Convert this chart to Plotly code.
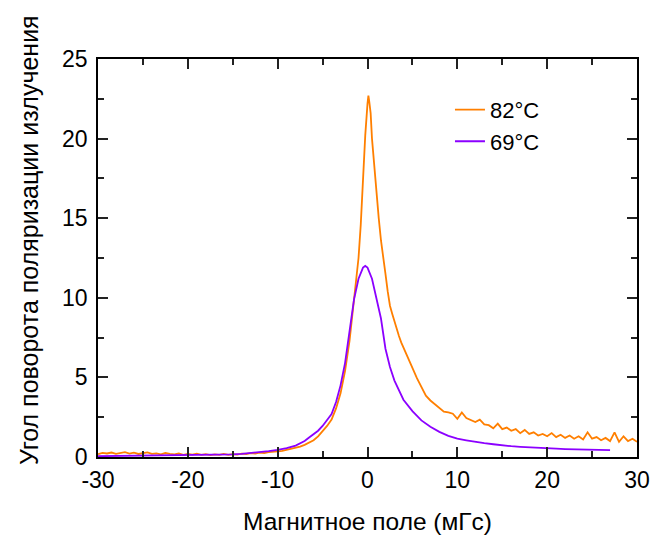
import plotly.graph_objects as go

# 82°C series (orange)
x82 = [-30, -29.5, -29, -28.5, -28, -27.5, -27, -26.5, -26, -25.5, -25, -24.5, -24, -23.5, -23,
       -22.5, -22, -21.5, -21, -20.5, -20, -19.5, -19, -18.5, -18, -17.5, -17, -16.5, -16, -15.5,
       -15, -14.5, -14, -13.5, -13, -12.5, -12, -11.5, -11, -10.5, -10, -9.5, -9, -8.5, -8, -7.5,
       -7, -6.5, -6, -5.5, -5, -4.5, -4, -3.5, -3, -2.5, -2, -1.5, -1.0, -0.75, -0.5, -0.25, 0,
       0.1, 0.2, 0.35, 0.5, 0.75, 1.0, 1.25, 1.5, 1.75, 2.0, 2.25, 2.5, 2.75, 3.0, 3.25, 3.5, 3.75,
       4.0, 4.5, 5.0, 5.5, 6.0, 6.5, 7.0, 7.5, 8.0, 8.5, 9.0, 9.5, 10.0, 10.5, 11.0, 11.5, 12.0,
       12.5, 13.0, 13.5, 14.0, 14.5, 15.0, 15.5, 16.0, 16.5, 17.0, 17.5, 18.0, 18.5, 19.0, 19.5,
       20.0, 20.5, 21.0, 21.5, 22.0, 22.5, 23.0, 23.5, 24.0, 24.5, 25.0, 25.5, 26.0, 26.5, 27.0,
       27.5, 28.0, 28.5, 29.0, 29.5, 30.0]
y82 = [0.18, 0.26, 0.22, 0.28, 0.2, 0.25, 0.3, 0.21, 0.27, 0.19, 0.24, 0.29, 0.2, 0.23, 0.17,
       0.25, 0.2, 0.16, 0.22, 0.14, 0.19, 0.15, 0.21, 0.13, 0.18, 0.12, 0.17, 0.14, 0.2, 0.13,
       0.18, 0.15, 0.21, 0.19, 0.24, 0.22, 0.27, 0.25, 0.3, 0.31, 0.35, 0.39, 0.45, 0.5, 0.56, 0.65,
       0.76, 0.9, 1.05, 1.3, 1.6, 1.95, 2.35, 3.05, 4.0, 5.4, 7.3, 9.8, 12.5, 14.6, 17.5, 20.2, 22.2,
       22.7, 22.3, 21.6, 20.0, 18.2, 16.8, 15.0, 13.6, 12.4, 11.5, 10.4, 9.5, 9.0, 8.5, 8.0, 7.6, 7.2,
       6.9, 6.2, 5.6, 4.95, 4.35, 3.85, 3.55, 3.3, 3.05, 2.85, 2.8, 2.72, 2.4, 2.8, 2.45, 2.3, 2.2,
       2.35, 2.05, 2.0, 1.8, 2.1, 1.75, 1.85, 1.65, 1.75, 1.5, 1.7, 1.45, 1.55, 1.35, 1.45,
       1.3, 1.5, 1.25, 1.4, 1.2, 1.35, 1.15, 1.3, 1.1, 1.55, 1.15, 1.25, 1.05, 1.2, 1.0,
       1.55, 0.95, 1.3, 1.0, 1.15, 0.95]

# 69°C series (purple)
x69 = [-30, -28, -26, -24, -22, -20, -18, -16, -15, -14, -13, -12, -11, -10, -9, -8, -7, -6.5,
       -6, -5.5, -5, -4.5, -4, -3.5, -3, -2.5, -2, -1.5, -1.0, -0.5, -0.25, 0, 0.5, 1.0, 1.5, 2.0,
       2.5, 3.0, 3.5, 4.0, 5.0, 6.0, 7.0, 8.0, 9.0, 10.0, 11.0, 12.0, 13.0, 14.0, 15.0, 16.0, 17.0,
       18.0, 19.0, 20.0, 21.0, 22.0, 23.0, 24.0, 25.0, 26.0, 27.0]
y69 = [0.05, 0.06, 0.07, 0.08, 0.09, 0.1, 0.12, 0.15, 0.17, 0.2, 0.25, 0.3, 0.37, 0.45, 0.56,
       0.72, 1.0, 1.22, 1.45, 1.65, 1.95, 2.3, 2.7, 3.45, 4.5, 5.9, 8.0, 9.9, 11.2, 11.9, 12.0, 11.9,
       11.2, 9.9, 8.7, 6.8, 5.65, 4.8, 4.15, 3.6, 2.88, 2.3, 1.9, 1.58, 1.33, 1.15, 1.05, 0.95,
       0.87, 0.8, 0.73, 0.68, 0.64, 0.6, 0.57, 0.54, 0.52, 0.5, 0.48, 0.46, 0.45, 0.44, 0.43]

names = ["82°C", "69°C"]
colors = ["#ff7f00", "#8b00ff"]
x_title = "Магнитное поле (мГс)"
y_title = "Угол поворота поляризации излучения"
x_tickvals = [-30, -20, -10, 0, 10, 20, 30]
x_ticktext = ["-30", "-20", "-10", "0", "10", "20", "30"]
y_tickvals = [0, 5, 10, 15, 20, 25]
y_ticktext = ["0", "5", "10", "15", "20", "25"]

fig = go.Figure()
fig.add_trace(go.Scatter(x=x82, y=y82, mode="lines", name=names[0],
                         line=dict(color=colors[0], width=1.8)))
fig.add_trace(go.Scatter(x=x69, y=y69, mode="lines", name=names[1],
                         line=dict(color=colors[1], width=1.8)))

font = "Liberation Sans, Arial, sans-serif"
axis_common = dict(showline=True, linecolor="black", linewidth=1.5, mirror="ticks",
                   ticks="inside", ticklen=10, tickwidth=1.5, tickcolor="#222",
                   showgrid=False, zeroline=False, automargin=False,
                   tickfont=dict(family=font, size=23, color="black"))

fig.update_layout(
    width=652, height=535,
    margin=dict(l=98, r=15, t=59, b=78),
    paper_bgcolor="white", plot_bgcolor="white",
    font=dict(family=font, color="black"),
    xaxis=dict(range=[-30, 30], tickmode="array", tickvals=x_tickvals, ticktext=x_ticktext,
               ticklabelstandoff=2,
               minor=dict(ticks="inside", ticklen=6, tickwidth=1.5, tickcolor="#222", dtick=5, tick0=-30),
               **axis_common),
    yaxis=dict(range=[0, 25], tickmode="array", tickvals=y_tickvals, ticktext=y_ticktext,
               ticklabelstandoff=4,
               minor=dict(ticks="inside", ticklen=6, tickwidth=1.5, tickcolor="#222", dtick=2.5, tick0=0),
               **axis_common),
    legend=dict(x=0.653, y=0.925, xanchor="left", yanchor="top", bgcolor="rgba(0,0,0,0)",
                font=dict(family=font, size=22, color="black"), tracegroupgap=0),
    showlegend=True,
    annotations=[
        dict(text=x_title, xref="paper", yref="paper", x=0.5, y=-0.163,
             xanchor="center", yanchor="middle", showarrow=False,
             font=dict(family=font, size=24.5, color="black")),
        dict(text=y_title, xref="paper", yref="paper", x=-0.128, y=0.545,
             xanchor="center", yanchor="middle", showarrow=False, textangle=-90,
             font=dict(family=font, size=25, color="black")),
    ],
)

fig.write_html("out.html", config={"displayModeBar": False},
               post_script="document.body.style.margin='0';document.body.style.overflow='hidden';")
